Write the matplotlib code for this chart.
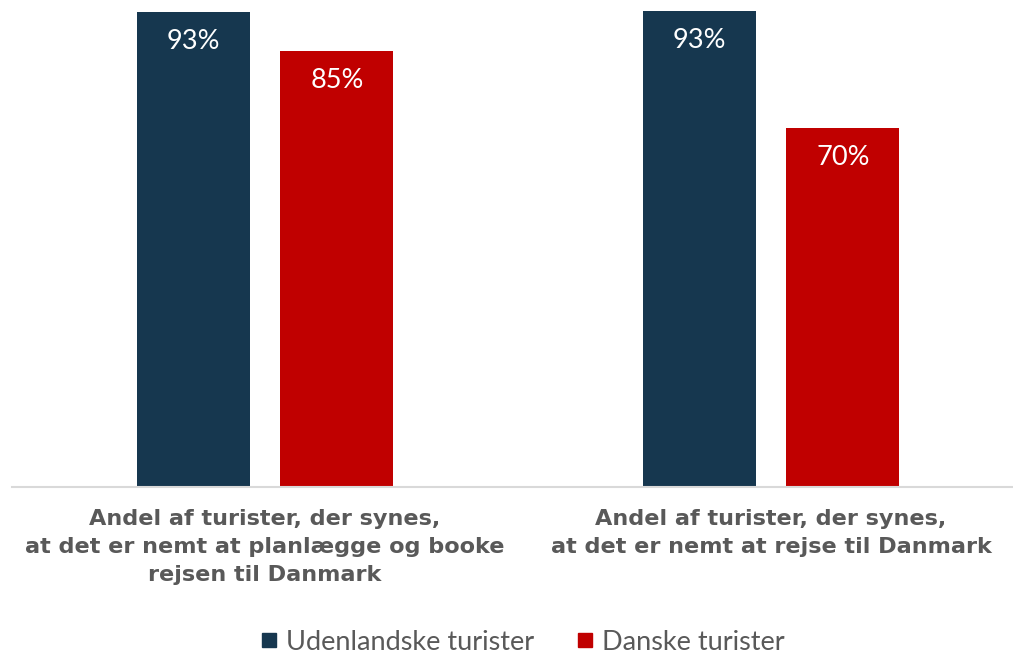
import matplotlib
matplotlib.use("Agg")
import matplotlib.pyplot as plt
from matplotlib.lines import Line2D
import numpy as np

categories = ["Andel af turister, der synes,\nat det er nemt at planlægge og booke\nrejsen til Danmark",
              "Andel af turister, der synes,\nat det er nemt at rejse til Danmark"]
series_names = ["Udenlandske turister", "Danske turister"]
udenlandske = [92.6, 92.8]
danske = [85.0, 70.0]
colors = ["#16374F", "#C00000"]

W, H = 1013, 654
fig = plt.figure(figsize=(W / 100, H / 100), dpi=100)
ax = fig.add_axes([12 / W, (H - 487) / H, 1012 / W, 487 / H])

x = np.arange(len(categories))
bw = 0.223
off = 0.142
for vals, c, d in [(udenlandske, colors[0], -off), (danske, colors[1], off)]:
    ax.bar(x + d, vals, width=bw, color=c, zorder=2)
    for xi, v in zip(x + d, vals):
        ax.text(xi, v - 5.9, f"{round(v):d}%", ha="center", va="center",
                color="white", fontsize=19.5, family=["Lato", "DejaVu Sans"],
                fontweight="normal", zorder=3)

ax.set_xlim(-0.5, 1.5)
ax.set_ylim(0, 487 / 5.133)
for s in ["top", "right", "left"]:
    ax.spines[s].set_visible(False)
ax.spines["bottom"].set_color("#D9D9D9")
ax.spines["bottom"].set_linewidth(1.5)
ax.set_yticks([])
ax.set_xticks(x)
ax.set_xticklabels(categories, fontsize=16.1, fontweight="bold", color="#595959",
                   family=["DejaVu Sans"], linespacing=1.5)
ax.tick_params(axis="x", length=0, pad=16)

handles = [Line2D([], [], marker="s", linestyle="", markersize=10.5, color=c) for c in colors]
fig.legend(handles, series_names, loc="center", bbox_to_anchor=(0.512, 1 - 642 / H),
           ncol=2, frameon=False, handletextpad=0.0, columnspacing=1.3, handlelength=1.2,
           labelcolor="#595959", prop={"family": ["Lato", "DejaVu Sans"], "size": 19.5})

fig.savefig("out.png", dpi=100)
